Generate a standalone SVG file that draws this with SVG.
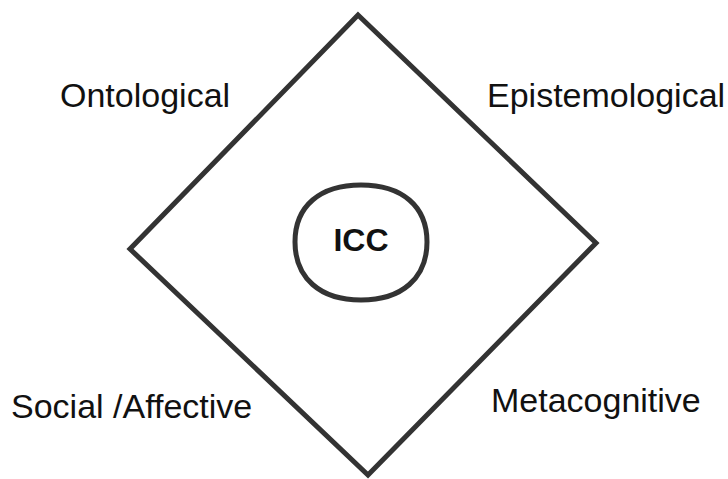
<svg xmlns="http://www.w3.org/2000/svg" width="728" height="479" viewBox="0 0 728 479">
<style>
.shape{fill:none;stroke:#333;stroke-width:5;stroke-linejoin:miter}
.lbl{font-family:"Liberation Sans",Arial,sans-serif;font-size:34px;fill:#111}
.core{font-family:"Liberation Sans",Arial,sans-serif;font-size:32px;font-weight:bold;fill:#111}
</style>
<rect width="728" height="479" fill="#fff"/>
<g id="frame">
<polygon class="shape" points="358,15 596,243 368,475 130,249"/>
</g>
<g id="connectors"></g>
<g id="icc">
<path class="shape" stroke-width="4" d="M295,242 C295,206 320,185 361,185 C402,185 427,206 427,242 C427,278 402,300 361,300 C320,300 295,278 295,242 Z"/>
<text class="core" x="361" y="251" text-anchor="middle">ICC</text>
</g>
<g id="ontological"><text class="lbl" x="60" y="107">Ontological</text></g>
<g id="epistemological"><text class="lbl" x="487" y="107">Epistemological</text></g>
<g id="social"><text class="lbl" x="11" y="418">Social /Affective</text></g>
<g id="metacognitive"><text class="lbl" x="491" y="412">Metacognitive</text></g>
</svg>
